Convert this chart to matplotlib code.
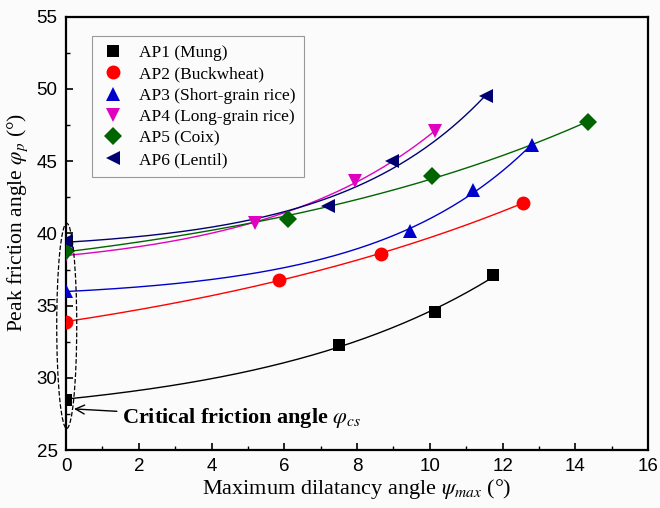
import numpy as np
import matplotlib
matplotlib.use("Agg")
import matplotlib.pyplot as plt
from matplotlib.patches import Ellipse

# data
labels = ['AP1 (Mung)', 'AP2 (Buckwheat)', 'AP3 (Short-grain rice)',
          'AP4 (Long-grain rice)', 'AP5 (Coix)', 'AP6 (Lentil)']
psi1 = [0.0, 7.5, 10.15, 11.75]
phi1 = [28.5, 32.3, 34.55, 37.1]
psi2 = [0.0, 5.85, 8.65, 12.55]
phi2 = [33.9, 36.75, 38.6, 42.1]
psi3 = [0.0, 9.45, 11.2, 12.8]
phi3 = [36.0, 40.2, 43.0, 46.1]
psi4 = [0.0, 5.2, 7.95, 10.15]
phi4 = [38.5, 40.7, 43.6, 47.1]
psi5 = [0.0, 6.1, 10.05, 14.35]
phi5 = [38.8, 41.0, 44.0, 47.7]
psi6 = [0.0, 7.2, 8.95, 11.55]
phi6 = [39.5, 41.9, 45.0, 49.5]

psi = [psi1, psi2, psi3, psi4, psi5, psi6]
phi = [phi1, phi2, phi3, phi4, phi5, phi6]
colors = ['black', '#ff0000', '#0000cc', '#e000c0', '#006400', '#000070']
markers = ['s', 'o', '^', 'v', 'D', '<']
msizes = [9, 10, 10.5, 10.5, 9, 10.5]


def exp_fit(x, y):
    # y = a + b*exp(c*x), search c, least squares for a, b
    x = np.asarray(x)
    y = np.asarray(y)
    best = None
    for c in np.linspace(0.01, 1.0, 400):
        A = np.column_stack([np.ones_like(x), np.exp(c * x)])
        p, *_ = np.linalg.lstsq(A, y, rcond=None)
        err = np.sum((A @ p - y) ** 2)
        if p[1] > 0 and (best is None or err < best[0]):
            best = (err, p[0], p[1], c)
    return best[1:]


plt.rcParams['font.family'] = ['Liberation Serif', 'DejaVu Serif']
plt.rcParams['mathtext.fontset'] = 'stix'

fig = plt.figure(figsize=(6.6, 5.08), dpi=100, facecolor='#fbfbfb')
ax = fig.add_axes([0.1, 0.114, 0.882, 0.853], facecolor='#fbfbfb')

for x, y, c, m, ms, lab in zip(psi, phi, colors, markers, msizes, labels):
    a, b, k = exp_fit(x, y)
    xs = np.linspace(0, max(x), 200)
    ax.plot(xs, a + b * np.exp(k * xs), color=c, lw=1.0, zorder=2)
    ax.plot(x, y, linestyle='none', marker=m, color=c, markersize=ms,
            markeredgewidth=0, label=lab, zorder=3)

ax.add_patch(Ellipse((0.02, 33.6), 0.55, 14.2, fill=False, ls='--',
                     lw=0.9, color='black', zorder=4, clip_on=False))
ax.annotate(r'Critical friction angle $\varphi_{cs}$', xy=(0.22, 27.85),
            xytext=(1.55, 27.2), fontsize=16, fontweight='bold',
            va='center', ha='left',
            arrowprops=dict(arrowstyle='->', color='black', lw=1.0,
                            shrinkA=2, shrinkB=0))

ax.set_xlim(0, 16)
ax.set_ylim(25, 55)
ax.set_xticks(np.arange(0, 17, 2))
ax.set_yticks(np.arange(25, 56, 5))
ax.set_xticks(np.arange(0, 16.1, 1), minor=True)
ax.set_yticks(np.arange(25, 55.1, 2.5), minor=True)
ax.tick_params(which='major', direction='in', length=5, width=1.2,
               labelsize=13.5, pad=6)
ax.tick_params(which='minor', direction='in', length=3, width=1.0)
for lab in ax.get_xticklabels() + ax.get_yticklabels():
    lab.set_fontfamily('Liberation Sans')
for s in ax.spines.values():
    s.set_linewidth(1.6)

ax.set_xlabel(r'Maximum dilatancy angle $\psi_{max}$ (°)', fontsize=16,
              labelpad=1)
ax.set_ylabel(r'Peak friction angle $\varphi_p$ (°)', fontsize=15.5,
              labelpad=4)
ax.yaxis.set_label_coords(-0.062, 0.525)

leg = ax.legend(loc='upper left', bbox_to_anchor=(0.045, 0.955), fontsize=12.5,
                frameon=True, fancybox=False, edgecolor='#999999',
                framealpha=1, facecolor='#fbfbfb', handletextpad=0.8,
                labelspacing=0.3, borderpad=0.5, handlelength=1.4,
                borderaxespad=0)
leg.get_frame().set_linewidth(0.8)

fig.savefig('out.png', dpi=100, facecolor=fig.get_facecolor())
